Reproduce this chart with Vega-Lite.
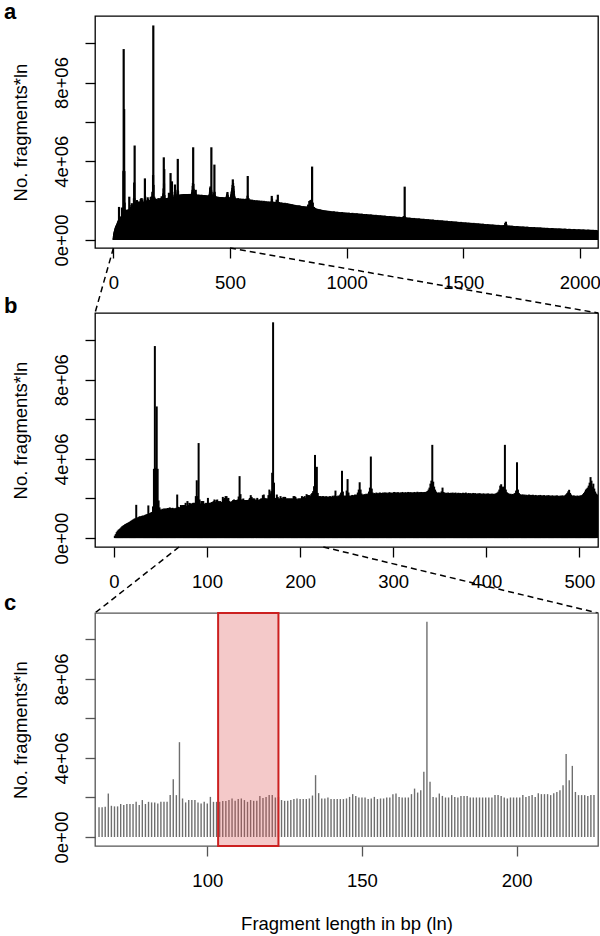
{
"$schema": "https://vega.github.io/schema/vega-lite/v6.json",
"background": "white",
"padding": {"left": 3, "top": 0, "right": 0, "bottom": 0},
"spacing": 0,
"bounds": "flush",
"config": {
 "font": "Liberation Sans",
 "view": {"stroke": "#000", "strokeWidth": 1.3},
 "axis": {"domain": false, "grid": false, "tickColor": "#000", "tickWidth": 1.3, "tickSize": 10, "labelFont": "Liberation Sans", "labelFontSize": 18.5, "labelColor": "#000", "titleFont": "Liberation Sans", "titleFontSize": 18.5, "titleFontWeight": "normal", "titleColor": "#000", "labelFlush": false, "labelOverlap": false},
 "axisY": {"labelAngle": 270, "labelAlign": "center", "labelBaseline": "bottom", "labelPadding": 14, "titlePadding": 22},
 "axisX": {"labelPadding": 15, "titlePadding": 25, "format": "d"},
 "title": {"anchor": "start", "frame": "group", "fontSize": 22, "fontWeight": "bold", "font": "Liberation Sans", "color": "#000", "dx": -91, "baseline": "alphabetic", "offset": 0}
},
"datasets": {
"frag": [
{"l":1,"n":0.12e6},{"l":2,"n":0.2e6},{"l":3,"n":0.3e6},{"l":4,"n":0.37e6},{"l":5,"n":0.42e6},{"l":6,"n":0.46e6},{"l":7,"n":0.5e6},{"l":8,"n":0.55e6},{"l":9,"n":0.6e6},{"l":10,"n":0.63e6},
{"l":11,"n":0.66e6},{"l":12,"n":0.7e6},{"l":13,"n":0.72e6},{"l":14,"n":0.75e6},{"l":15,"n":0.77e6},{"l":16,"n":0.8e6},{"l":17,"n":0.82e6},{"l":18,"n":0.86e6},{"l":19,"n":0.89e6},{"l":20,"n":0.92e6},
{"l":21,"n":0.95e6},{"l":22,"n":0.98e6},{"l":23,"n":1.0e6},{"l":24,"n":1.68e6},{"l":25,"n":1.05e6},{"l":26,"n":1.02e6},{"l":27,"n":1.08e6},{"l":28,"n":1.1e6},{"l":29,"n":1.09e6},{"l":30,"n":1.12e6},
{"l":31,"n":1.14e6},{"l":32,"n":1.12e6},{"l":33,"n":1.16e6},{"l":34,"n":1.18e6},{"l":35,"n":1.2e6},{"l":36,"n":1.22e6},{"l":37,"n":1.65e6},{"l":38,"n":1.25e6},{"l":39,"n":1.27e6},{"l":40,"n":1.3e6},
{"l":41,"n":1.32e6},{"l":42,"n":1.6e6},{"l":43,"n":3.5e6},{"l":44,"n":9.7e6},{"l":45,"n":3.55e6},{"l":46,"n":6.65e6},{"l":47,"n":3.5e6},{"l":48,"n":1.9e6},{"l":49,"n":1.55e6},{"l":50,"n":1.45e6},
{"l":51,"n":1.42e6},{"l":52,"n":1.48e6},{"l":53,"n":1.45e6},{"l":54,"n":1.5e6},{"l":55,"n":1.47e6},{"l":56,"n":1.5e6},{"l":57,"n":1.48e6},{"l":58,"n":1.52e6},{"l":59,"n":1.5e6},{"l":60,"n":1.55e6},
{"l":61,"n":1.52e6},{"l":62,"n":1.5e6},{"l":63,"n":1.53e6},{"l":64,"n":1.5e6},{"l":65,"n":1.5e6},{"l":66,"n":1.5e6},{"l":67,"n":1.53e6},{"l":68,"n":2.2e6},{"l":69,"n":1.58e6},{"l":70,"n":1.55e6},
{"l":71,"n":1.55e6},{"l":72,"n":1.67e6},{"l":73,"n":1.62e6},{"l":74,"n":1.67e6},{"l":75,"n":1.67e6},{"l":76,"n":1.67e6},{"l":77,"n":1.78e6},{"l":78,"n":1.62e6},{"l":79,"n":1.87e6},{"l":80,"n":1.67e6},
{"l":81,"n":1.78e6},{"l":82,"n":1.75e6},{"l":83,"n":1.75e6},{"l":84,"n":1.7e6},{"l":85,"n":1.78e6},{"l":86,"n":1.78e6},{"l":87,"n":1.78e6},{"l":88,"n":2.12e6},{"l":89,"n":2.92e6},{"l":90,"n":2.12e6},
{"l":91,"n":4.8e6},{"l":92,"n":1.95e6},{"l":93,"n":1.75e6},{"l":94,"n":1.87e6},{"l":95,"n":1.87e6},{"l":96,"n":1.87e6},{"l":97,"n":1.75e6},{"l":98,"n":1.7e6},{"l":99,"n":1.78e6},{"l":100,"n":1.7e6},
{"l":101,"n":2.03e6},{"l":102,"n":1.78e6},{"l":103,"n":1.78e6},{"l":104,"n":1.78e6},{"l":105,"n":1.82e6},{"l":106,"n":1.82e6},{"l":107,"n":1.87e6},{"l":108,"n":1.95e6},{"l":109,"n":1.83e6},{"l":110,"n":1.92e6},
{"l":111,"n":1.95e6},{"l":112,"n":1.87e6},{"l":113,"n":1.78e6},{"l":114,"n":1.87e6},{"l":115,"n":1.83e6},{"l":116,"n":1.83e6},{"l":117,"n":2.08e6},{"l":118,"n":1.98e6},{"l":119,"n":2.03e6},{"l":120,"n":2.12e6},
{"l":121,"n":2.12e6},{"l":122,"n":2.0e6},{"l":123,"n":2.03e6},{"l":124,"n":1.87e6},{"l":125,"n":1.83e6},{"l":126,"n":1.83e6},{"l":127,"n":1.87e6},{"l":128,"n":1.92e6},{"l":129,"n":1.95e6},{"l":130,"n":1.92e6},
{"l":131,"n":1.92e6},{"l":132,"n":1.92e6},{"l":133,"n":1.95e6},{"l":134,"n":2.1e6},{"l":135,"n":3.13e6},{"l":136,"n":2.22e6},{"l":137,"n":1.95e6},{"l":138,"n":1.95e6},{"l":139,"n":2.0e6},{"l":140,"n":1.92e6},
{"l":141,"n":1.92e6},{"l":142,"n":1.92e6},{"l":143,"n":1.92e6},{"l":144,"n":1.92e6},{"l":145,"n":1.95e6},{"l":146,"n":2.03e6},{"l":147,"n":2.17e6},{"l":148,"n":2.08e6},{"l":149,"n":2.0e6},{"l":150,"n":2.0e6},
{"l":151,"n":2.0e6},{"l":152,"n":1.92e6},{"l":153,"n":1.95e6},{"l":154,"n":2.03e6},{"l":155,"n":1.92e6},{"l":156,"n":1.95e6},{"l":157,"n":1.95e6},{"l":158,"n":2.0e6},{"l":159,"n":2.0e6},{"l":160,"n":2.17e6},
{"l":161,"n":2.2e6},{"l":162,"n":2.03e6},{"l":163,"n":2.0e6},{"l":164,"n":2.0e6},{"l":165,"n":2.0e6},{"l":166,"n":2.17e6},{"l":167,"n":2.45e6},{"l":168,"n":2.25e6},{"l":169,"n":2.37e6},{"l":170,"n":3.3e6},
{"l":171,"n":10.9e6},{"l":172,"n":2.8e6},{"l":173,"n":2.03e6},{"l":174,"n":2.0e6},{"l":175,"n":2.2e6},{"l":176,"n":2.08e6},{"l":177,"n":2.0e6},{"l":178,"n":2.0e6},{"l":179,"n":2.12e6},{"l":180,"n":2.03e6},
{"l":181,"n":2.0e6},{"l":182,"n":2.08e6},{"l":183,"n":2.08e6},{"l":184,"n":2.08e6},{"l":185,"n":2.0e6},{"l":186,"n":2.0e6},{"l":187,"n":2.0e6},{"l":188,"n":2.0e6},{"l":189,"n":2.0e6},{"l":190,"n":2.0e6},
{"l":191,"n":2.0e6},{"l":192,"n":2.0e6},{"l":193,"n":2.12e6},{"l":194,"n":2.12e6},{"l":195,"n":2.08e6},{"l":196,"n":2.0e6},{"l":197,"n":1.95e6},{"l":198,"n":2.0e6},{"l":199,"n":2.0e6},{"l":200,"n":2.0e6},
{"l":201,"n":2.0e6},{"l":202,"n":2.12e6},{"l":203,"n":2.03e6},{"l":204,"n":2.08e6},{"l":205,"n":2.12e6},{"l":206,"n":2.03e6},{"l":207,"n":2.22e6},{"l":208,"n":2.17e6},{"l":209,"n":2.17e6},{"l":210,"n":2.17e6},
{"l":211,"n":2.12e6},{"l":212,"n":2.22e6},{"l":213,"n":2.28e6},{"l":214,"n":2.37e6},{"l":215,"n":2.62e6},{"l":216,"n":4.2e6},{"l":217,"n":2.87e6},{"l":218,"n":3.6e6},{"l":219,"n":2.28e6},{"l":220,"n":2.12e6},
{"l":221,"n":2.12e6},{"l":222,"n":2.12e6},{"l":223,"n":2.08e6},{"l":224,"n":2.12e6},{"l":225,"n":2.12e6},{"l":226,"n":2.1e6},{"l":227,"n":2.08e6},{"l":228,"n":2.12e6},{"l":229,"n":2.05e6},{"l":230,"n":2.1e6},
{"l":231,"n":2.07e6},{"l":232,"n":2.12e6},{"l":233,"n":2.1e6},{"l":234,"n":2.08e6},{"l":235,"n":2.14e6},{"l":236,"n":2.1e6},{"l":237,"n":2.15e6},{"l":238,"n":2.4e6},{"l":239,"n":2.12e6},{"l":240,"n":2.1e6},
{"l":241,"n":2.15e6},{"l":242,"n":2.12e6},{"l":243,"n":2.2e6},{"l":244,"n":2.3e6},{"l":245,"n":3.4e6},{"l":246,"n":2.35e6},{"l":247,"n":2.15e6},{"l":248,"n":2.12e6},{"l":249,"n":2.15e6},{"l":250,"n":2.4e6},
{"l":251,"n":2.98e6},{"l":252,"n":2.3e6},{"l":253,"n":2.15e6},{"l":254,"n":2.12e6},{"l":255,"n":2.15e6},{"l":256,"n":2.18e6},{"l":257,"n":2.14e6},{"l":258,"n":2.17e6},{"l":259,"n":2.2e6},{"l":260,"n":2.15e6},
{"l":261,"n":2.2e6},{"l":262,"n":2.3e6},{"l":263,"n":2.45e6},{"l":264,"n":2.82e6},{"l":265,"n":2.45e6},{"l":266,"n":2.25e6},{"l":267,"n":2.2e6},{"l":268,"n":2.18e6},{"l":269,"n":2.22e6},{"l":270,"n":2.2e6},
{"l":271,"n":2.24e6},{"l":272,"n":2.2e6},{"l":273,"n":2.25e6},{"l":274,"n":2.35e6},{"l":275,"n":2.55e6},{"l":276,"n":4.12e6},{"l":277,"n":2.5e6},{"l":278,"n":2.3e6},{"l":279,"n":2.25e6},{"l":280,"n":2.28e6},
{"l":281,"n":2.24e6},{"l":282,"n":2.3e6},{"l":283,"n":2.27e6},{"l":284,"n":2.25e6},{"l":285,"n":2.29e6},{"l":286,"n":2.3e6},{"l":287,"n":2.26e6},{"l":288,"n":2.28e6},{"l":289,"n":2.3e6},{"l":290,"n":2.27e6},
{"l":291,"n":2.31e6},{"l":292,"n":2.28e6},{"l":293,"n":2.3e6},{"l":294,"n":2.26e6},{"l":295,"n":2.29e6},{"l":296,"n":2.32e6},{"l":297,"n":2.28e6},{"l":298,"n":2.3e6},{"l":299,"n":2.27e6},{"l":300,"n":2.3e6},
{"l":301,"n":2.33e6},{"l":302,"n":2.29e6},{"l":303,"n":2.31e6},{"l":304,"n":2.28e6},{"l":305,"n":2.32e6},{"l":306,"n":2.3e6},{"l":307,"n":2.27e6},{"l":308,"n":2.31e6},{"l":309,"n":2.29e6},{"l":310,"n":2.33e6},
{"l":311,"n":2.3e6},{"l":312,"n":2.28e6},{"l":313,"n":2.32e6},{"l":314,"n":2.3e6},{"l":315,"n":2.29e6},{"l":316,"n":2.33e6},{"l":317,"n":2.31e6},{"l":318,"n":2.3e6},{"l":319,"n":2.32e6},{"l":320,"n":2.28e6},
{"l":321,"n":2.31e6},{"l":322,"n":2.3e6},{"l":323,"n":2.33e6},{"l":324,"n":2.29e6},{"l":325,"n":2.31e6},{"l":326,"n":2.34e6},{"l":327,"n":2.3e6},{"l":328,"n":2.32e6},{"l":329,"n":2.31e6},{"l":330,"n":2.33e6},
{"l":331,"n":2.3e6},{"l":332,"n":2.32e6},{"l":333,"n":2.31e6},{"l":334,"n":2.33e6},{"l":335,"n":2.32e6},{"l":336,"n":2.35e6},{"l":337,"n":2.38e6},{"l":338,"n":2.45e6},{"l":339,"n":2.55e6},{"l":340,"n":2.75e6},
{"l":341,"n":2.9e6},{"l":342,"n":4.71e6},{"l":343,"n":2.85e6},{"l":344,"n":2.6e6},{"l":345,"n":2.45e6},{"l":346,"n":2.35e6},{"l":347,"n":2.3e6},{"l":348,"n":2.28e6},{"l":349,"n":2.31e6},{"l":350,"n":2.27e6},
{"l":351,"n":2.3e6},{"l":352,"n":2.36e6},{"l":353,"n":2.55e6},{"l":354,"n":2.33e6},{"l":355,"n":2.3e6},{"l":356,"n":2.27e6},{"l":357,"n":2.29e6},{"l":358,"n":2.26e6},{"l":359,"n":2.3e6},{"l":360,"n":2.28e6},
{"l":361,"n":2.25e6},{"l":362,"n":2.29e6},{"l":363,"n":2.27e6},{"l":364,"n":2.3e6},{"l":365,"n":2.26e6},{"l":366,"n":2.28e6},{"l":367,"n":2.3e6},{"l":368,"n":2.25e6},{"l":369,"n":2.27e6},{"l":370,"n":2.29e6},
{"l":371,"n":2.26e6},{"l":372,"n":2.28e6},{"l":373,"n":2.24e6},{"l":374,"n":2.27e6},{"l":375,"n":2.29e6},{"l":376,"n":2.25e6},{"l":377,"n":2.27e6},{"l":378,"n":2.3e6},{"l":379,"n":2.26e6},{"l":380,"n":2.24e6},
{"l":381,"n":2.28e6},{"l":382,"n":2.25e6},{"l":383,"n":2.27e6},{"l":384,"n":2.23e6},{"l":385,"n":2.26e6},{"l":386,"n":2.28e6},{"l":387,"n":2.24e6},{"l":388,"n":2.27e6},{"l":389,"n":2.25e6},{"l":390,"n":2.22e6},
{"l":391,"n":2.26e6},{"l":392,"n":2.24e6},{"l":393,"n":2.27e6},{"l":394,"n":2.23e6},{"l":395,"n":2.25e6},{"l":396,"n":2.22e6},{"l":397,"n":2.26e6},{"l":398,"n":2.24e6},{"l":399,"n":2.21e6},{"l":400,"n":2.25e6},
{"l":401,"n":2.23e6},{"l":402,"n":2.26e6},{"l":403,"n":2.22e6},{"l":404,"n":2.24e6},{"l":405,"n":2.21e6},{"l":406,"n":2.25e6},{"l":407,"n":2.22e6},{"l":408,"n":2.24e6},{"l":409,"n":2.22e6},{"l":410,"n":2.25e6},
{"l":411,"n":2.27e6},{"l":412,"n":2.3e6},{"l":413,"n":2.35e6},{"l":414,"n":2.45e6},{"l":415,"n":2.65e6},{"l":416,"n":2.72e6},{"l":417,"n":2.55e6},{"l":418,"n":2.6e6},{"l":419,"n":2.55e6},{"l":420,"n":4.71e6},
{"l":421,"n":2.45e6},{"l":422,"n":2.32e6},{"l":423,"n":2.28e6},{"l":424,"n":2.25e6},{"l":425,"n":2.22e6},{"l":426,"n":2.24e6},{"l":427,"n":2.2e6},{"l":428,"n":2.23e6},{"l":429,"n":2.21e6},{"l":430,"n":2.25e6},
{"l":431,"n":2.28e6},{"l":432,"n":2.4e6},{"l":433,"n":3.83e6},{"l":434,"n":2.45e6},{"l":435,"n":2.28e6},{"l":436,"n":2.22e6},{"l":437,"n":2.2e6},{"l":438,"n":2.18e6},{"l":439,"n":2.21e6},{"l":440,"n":2.17e6},
{"l":441,"n":2.2e6},{"l":442,"n":2.16e6},{"l":443,"n":2.19e6},{"l":444,"n":2.15e6},{"l":445,"n":2.18e6},{"l":446,"n":2.2e6},{"l":447,"n":2.16e6},{"l":448,"n":2.18e6},{"l":449,"n":2.15e6},{"l":450,"n":2.19e6},
{"l":451,"n":2.17e6},{"l":452,"n":2.14e6},{"l":453,"n":2.18e6},{"l":454,"n":2.16e6},{"l":455,"n":2.13e6},{"l":456,"n":2.17e6},{"l":457,"n":2.15e6},{"l":458,"n":2.18e6},{"l":459,"n":2.14e6},{"l":460,"n":2.16e6},
{"l":461,"n":2.13e6},{"l":462,"n":2.17e6},{"l":463,"n":2.15e6},{"l":464,"n":2.12e6},{"l":465,"n":2.16e6},{"l":466,"n":2.14e6},{"l":467,"n":2.17e6},{"l":468,"n":2.13e6},{"l":469,"n":2.15e6},{"l":470,"n":2.12e6},
{"l":471,"n":2.16e6},{"l":472,"n":2.14e6},{"l":473,"n":2.11e6},{"l":474,"n":2.15e6},{"l":475,"n":2.13e6},{"l":476,"n":2.16e6},{"l":477,"n":2.12e6},{"l":478,"n":2.14e6},{"l":479,"n":2.11e6},{"l":480,"n":2.15e6},
{"l":481,"n":2.13e6},{"l":482,"n":2.16e6},{"l":483,"n":2.12e6},{"l":484,"n":2.14e6},{"l":485,"n":2.18e6},{"l":486,"n":2.22e6},{"l":487,"n":2.28e6},{"l":488,"n":2.36e6},{"l":489,"n":2.44e6},{"l":490,"n":2.28e6},
{"l":491,"n":2.2e6},{"l":492,"n":2.15e6},{"l":493,"n":2.13e6},{"l":494,"n":2.16e6},{"l":495,"n":2.12e6},{"l":496,"n":2.14e6},{"l":497,"n":2.11e6},{"l":498,"n":2.15e6},{"l":499,"n":2.13e6},{"l":500,"n":2.12e6},
{"l":501,"n":2.16e6},{"l":502,"n":2.14e6},{"l":503,"n":2.18e6},{"l":504,"n":2.22e6},{"l":505,"n":2.28e6},{"l":506,"n":2.35e6},{"l":507,"n":2.45e6},{"l":508,"n":2.5e6},{"l":509,"n":2.55e6},{"l":510,"n":2.65e6},
{"l":511,"n":2.8e6},{"l":512,"n":3.08e6},{"l":513,"n":2.9e6},{"l":514,"n":2.6e6},{"l":515,"n":2.75e6},{"l":516,"n":2.5e6},{"l":517,"n":2.35e6},{"l":518,"n":2.25e6},{"l":519,"n":2.2e6},{"l":520,"n":2.15e6},
{"l":525,"n":2.12e6},{"l":530,"n":2.1e6},{"l":535,"n":2.13e6},{"l":540,"n":2.09e6},{"l":545,"n":2.11e6},{"l":550,"n":2.08e6},{"l":555,"n":2.1e6},{"l":560,"n":2.07e6},{"l":565,"n":2.09e6},{"l":570,"n":2.1e6},
{"l":575,"n":2.25e6},{"l":576,"n":3.25e6},{"l":580,"n":2.12e6},{"l":585,"n":2.06e6},{"l":590,"n":2.04e6},{"l":595,"n":2.05e6},{"l":600,"n":2.02e6},{"l":605,"n":2.03e6},{"l":610,"n":2.0e6},{"l":615,"n":2.02e6},
{"l":620,"n":1.99e6},{"l":625,"n":2.01e6},{"l":630,"n":1.98e6},{"l":635,"n":2.0e6},{"l":640,"n":1.97e6},{"l":645,"n":1.99e6},{"l":650,"n":1.96e6},{"l":655,"n":1.97e6},{"l":660,"n":1.95e6},{"l":665,"n":1.96e6},
{"l":670,"n":1.94e6},{"l":675,"n":1.96e6},{"l":679,"n":2.24e6},{"l":680,"n":2.1e6},{"l":685,"n":1.95e6},{"l":690,"n":1.93e6},{"l":695,"n":1.94e6},{"l":700,"n":2.05e6},{"l":705,"n":2.3e6},{"l":710,"n":1.93e6},
{"l":715,"n":1.9e6},{"l":720,"n":1.91e6},{"l":725,"n":1.89e6},{"l":730,"n":1.88e6},{"l":735,"n":1.89e6},{"l":740,"n":1.86e6},{"l":745,"n":1.87e6},{"l":750,"n":1.85e6},{"l":755,"n":1.84e6},{"l":760,"n":1.83e6},
{"l":765,"n":1.82e6},{"l":770,"n":1.8e6},{"l":775,"n":1.79e6},{"l":780,"n":1.78e6},{"l":785,"n":1.77e6},{"l":790,"n":1.76e6},{"l":795,"n":1.76e6},{"l":800,"n":1.75e6},{"l":805,"n":1.73e6},{"l":810,"n":1.72e6},
{"l":815,"n":1.72e6},{"l":820,"n":1.71e6},{"l":825,"n":1.7e6},{"l":830,"n":1.7e6},{"l":835,"n":1.8e6},{"l":840,"n":1.98e6},{"l":845,"n":2.03e6},{"l":850,"n":2.05e6},{"l":852,"n":3.73e6},{"l":855,"n":1.9e6},
{"l":860,"n":1.68e6},{"l":865,"n":1.63e6},{"l":870,"n":1.6e6},{"l":875,"n":1.58e6},{"l":880,"n":1.57e6},{"l":885,"n":1.56e6},{"l":890,"n":1.54e6},{"l":895,"n":1.53e6},{"l":900,"n":1.52e6},{"l":905,"n":1.51e6},
{"l":910,"n":1.5e6},{"l":915,"n":1.49e6},{"l":920,"n":1.48e6},{"l":925,"n":1.48e6},{"l":930,"n":1.47e6},{"l":935,"n":1.46e6},{"l":940,"n":1.45e6},{"l":945,"n":1.46e6},{"l":950,"n":1.44e6},{"l":955,"n":1.43e6},
{"l":960,"n":1.44e6},{"l":965,"n":1.42e6},{"l":970,"n":1.42e6},{"l":975,"n":1.41e6},{"l":980,"n":1.42e6},{"l":985,"n":1.4e6},{"l":990,"n":1.4e6},{"l":995,"n":1.39e6},{"l":1000,"n":1.39e6},{"l":1005,"n":1.38e6},
{"l":1010,"n":1.39e6},{"l":1015,"n":1.37e6},{"l":1020,"n":1.37e6},{"l":1025,"n":1.38e6},{"l":1030,"n":1.36e6},{"l":1035,"n":1.36e6},{"l":1040,"n":1.35e6},{"l":1045,"n":1.36e6},{"l":1050,"n":1.34e6},{"l":1055,"n":1.34e6},
{"l":1060,"n":1.33e6},{"l":1065,"n":1.34e6},{"l":1070,"n":1.32e6},{"l":1075,"n":1.32e6},{"l":1080,"n":1.31e6},{"l":1085,"n":1.32e6},{"l":1090,"n":1.3e6},{"l":1095,"n":1.3e6},{"l":1100,"n":1.29e6},{"l":1105,"n":1.3e6},
{"l":1110,"n":1.28e6},{"l":1115,"n":1.28e6},{"l":1120,"n":1.27e6},{"l":1125,"n":1.28e6},{"l":1130,"n":1.26e6},{"l":1135,"n":1.26e6},{"l":1140,"n":1.25e6},{"l":1145,"n":1.26e6},{"l":1150,"n":1.24e6},{"l":1155,"n":1.24e6},
{"l":1160,"n":1.23e6},{"l":1165,"n":1.24e6},{"l":1170,"n":1.22e6},{"l":1175,"n":1.22e6},{"l":1180,"n":1.21e6},{"l":1185,"n":1.22e6},{"l":1190,"n":1.2e6},{"l":1195,"n":1.2e6},{"l":1200,"n":1.19e6},{"l":1205,"n":1.2e6},
{"l":1210,"n":1.18e6},{"l":1215,"n":1.18e6},{"l":1220,"n":1.17e6},{"l":1225,"n":1.18e6},{"l":1230,"n":1.17e6},{"l":1235,"n":1.16e6},{"l":1240,"n":1.17e6},{"l":1245,"n":1.22e6},{"l":1249,"n":2.71e6},{"l":1250,"n":1.2e6},
{"l":1255,"n":1.15e6},{"l":1260,"n":1.14e6},{"l":1265,"n":1.13e6},{"l":1270,"n":1.14e6},{"l":1275,"n":1.12e6},{"l":1280,"n":1.12e6},{"l":1285,"n":1.11e6},{"l":1290,"n":1.12e6},{"l":1295,"n":1.1e6},{"l":1300,"n":1.1e6},
{"l":1305,"n":1.09e6},{"l":1310,"n":1.1e6},{"l":1315,"n":1.08e6},{"l":1320,"n":1.08e6},{"l":1325,"n":1.07e6},{"l":1330,"n":1.08e6},{"l":1335,"n":1.06e6},{"l":1340,"n":1.06e6},{"l":1345,"n":1.05e6},{"l":1350,"n":1.06e6},
{"l":1355,"n":1.04e6},{"l":1360,"n":1.04e6},{"l":1365,"n":1.03e6},{"l":1370,"n":1.04e6},{"l":1375,"n":1.02e6},{"l":1380,"n":1.02e6},{"l":1385,"n":1.01e6},{"l":1390,"n":1.02e6},{"l":1395,"n":1.0e6},{"l":1400,"n":1.0e6},
{"l":1405,"n":0.99e6},{"l":1410,"n":1.0e6},{"l":1415,"n":0.98e6},{"l":1420,"n":0.98e6},{"l":1425,"n":0.97e6},{"l":1430,"n":0.98e6},{"l":1435,"n":0.96e6},{"l":1440,"n":0.96e6},{"l":1445,"n":0.95e6},{"l":1450,"n":0.96e6},
{"l":1455,"n":0.94e6},{"l":1460,"n":0.94e6},{"l":1465,"n":0.93e6},{"l":1470,"n":0.94e6},{"l":1475,"n":0.92e6},{"l":1480,"n":0.92e6},{"l":1485,"n":0.91e6},{"l":1490,"n":0.92e6},{"l":1495,"n":0.9e6},{"l":1500,"n":0.9e6},
{"l":1505,"n":0.89e6},{"l":1510,"n":0.9e6},{"l":1515,"n":0.88e6},{"l":1520,"n":0.88e6},{"l":1525,"n":0.88e6},{"l":1530,"n":0.87e6},{"l":1535,"n":0.87e6},{"l":1540,"n":0.86e6},{"l":1545,"n":0.87e6},{"l":1550,"n":0.85e6},
{"l":1555,"n":0.85e6},{"l":1560,"n":0.84e6},{"l":1565,"n":0.85e6},{"l":1570,"n":0.83e6},{"l":1575,"n":0.83e6},{"l":1580,"n":0.82e6},{"l":1585,"n":0.83e6},{"l":1590,"n":0.81e6},{"l":1595,"n":0.81e6},{"l":1600,"n":0.8e6},
{"l":1605,"n":0.81e6},{"l":1610,"n":0.79e6},{"l":1615,"n":0.79e6},{"l":1620,"n":0.78e6},{"l":1625,"n":0.79e6},{"l":1630,"n":0.78e6},{"l":1635,"n":0.77e6},{"l":1640,"n":0.77e6},{"l":1645,"n":0.76e6},{"l":1650,"n":0.77e6},
{"l":1655,"n":0.76e6},{"l":1660,"n":0.75e6},{"l":1665,"n":0.75e6},{"l":1670,"n":0.75e6},{"l":1675,"n":0.76e6},{"l":1680,"n":0.86e6},{"l":1683,"n":0.93e6},{"l":1685,"n":0.8e6},{"l":1690,"n":0.74e6},{"l":1695,"n":0.73e6},
{"l":1700,"n":0.73e6},{"l":1705,"n":0.72e6},{"l":1710,"n":0.73e6},{"l":1715,"n":0.71e6},{"l":1720,"n":0.71e6},{"l":1725,"n":0.7e6},{"l":1730,"n":0.71e6},{"l":1735,"n":0.7e6},{"l":1740,"n":0.69e6},{"l":1745,"n":0.69e6},
{"l":1750,"n":0.68e6},{"l":1755,"n":0.69e6},{"l":1760,"n":0.68e6},{"l":1765,"n":0.67e6},{"l":1770,"n":0.67e6},{"l":1775,"n":0.68e6},{"l":1780,"n":0.66e6},{"l":1785,"n":0.66e6},{"l":1790,"n":0.66e6},{"l":1795,"n":0.65e6},
{"l":1800,"n":0.65e6},{"l":1805,"n":0.66e6},{"l":1810,"n":0.64e6},{"l":1815,"n":0.64e6},{"l":1820,"n":0.64e6},{"l":1825,"n":0.63e6},{"l":1830,"n":0.64e6},{"l":1835,"n":0.63e6},{"l":1840,"n":0.62e6},{"l":1845,"n":0.62e6},
{"l":1850,"n":0.62e6},{"l":1855,"n":0.61e6},{"l":1860,"n":0.62e6},{"l":1865,"n":0.61e6},{"l":1870,"n":0.6e6},{"l":1875,"n":0.6e6},{"l":1880,"n":0.61e6},{"l":1885,"n":0.6e6},{"l":1890,"n":0.59e6},{"l":1895,"n":0.59e6},
{"l":1900,"n":0.59e6},{"l":1905,"n":0.58e6},{"l":1910,"n":0.59e6},{"l":1915,"n":0.58e6},{"l":1920,"n":0.58e6},{"l":1925,"n":0.57e6},{"l":1930,"n":0.57e6},{"l":1935,"n":0.58e6},{"l":1940,"n":0.57e6},{"l":1945,"n":0.56e6},
{"l":1950,"n":0.56e6},{"l":1955,"n":0.57e6},{"l":1960,"n":0.56e6},{"l":1965,"n":0.55e6},{"l":1970,"n":0.55e6},{"l":1975,"n":0.56e6},{"l":1980,"n":0.55e6},{"l":1985,"n":0.54e6},{"l":1990,"n":0.54e6},{"l":1995,"n":0.55e6},
{"l":2000,"n":0.54e6},{"l":2005,"n":0.53e6},{"l":2010,"n":0.53e6},{"l":2015,"n":0.54e6},{"l":2020,"n":0.53e6},{"l":2025,"n":0.52e6},{"l":2030,"n":0.52e6},{"l":2035,"n":0.53e6},{"l":2040,"n":0.52e6},{"l":2045,"n":0.52e6},
{"l":2050,"n":0.51e6},{"l":2055,"n":0.52e6},{"l":2060,"n":0.51e6},{"l":2065,"n":0.51e6},{"l":2070,"n":0.51e6},{"l":2075,"n":0.5e6}
]
},
"vconcat": [
 {
  "title": {"text": "a", "dy": 12},
  "width": 503, "height": 232,
  "data": {"name": "frag"},
  "mark": {"type": "rule", "color": "#000", "strokeWidth": 2.2, "clip": true},
  "encoding": {
   "x": {"field": "l", "type": "quantitative", "scale": {"domain": [-79, 2078], "nice": false, "zero": false}, "axis": {"values": [0, 500, 1000, 1500, 2000], "title": null}},
   "y": {"field": "n", "type": "quantitative", "scale": {"domain": [-407000, 11380000], "nice": false}, "axis": {"title": "No. fragments*ln", "values": [0, 2000000, 4000000, 6000000, 8000000, 10000000], "labelExpr": "datum.value == 0 ? '0e+00' : datum.value == 4000000 ? '4e+06' : datum.value == 8000000 ? '8e+06' : ''"}},
   "y2": {"datum": 0}
  }
 },
 {
  "width": 503, "height": 65,
  "view": {"stroke": null},
  "data": {"values": [{"from": 0, "to": -79}, {"from": 500, "to": 2078}]},
  "mark": {"type": "rule", "color": "#000", "strokeWidth": 1.5, "strokeDash": [6, 4]},
  "encoding": {
   "x": {"field": "from", "type": "quantitative", "scale": {"domain": [-79, 2078], "nice": false, "zero": false}, "axis": null},
   "x2": {"field": "to"},
   "y": {"datum": 1, "type": "quantitative", "scale": {"domain": [0, 1]}, "axis": null},
   "y2": {"datum": 0}
  }
 },
 {
  "title": {"text": "b", "dy": 9},
  "width": 503, "height": 234,
  "data": {"name": "frag"},
  "transform": [{"filter": "datum.l <= 520"}],
  "mark": {"type": "rule", "color": "#000", "strokeWidth": 2, "clip": true},
  "encoding": {
   "x": {"field": "l", "type": "quantitative", "scale": {"domain": [-20.3, 520], "nice": false, "zero": false}, "axis": {"values": [0, 100, 200, 300, 400, 500], "title": null}},
   "y": {"field": "n", "type": "quantitative", "scale": {"domain": [-450000, 11370000], "nice": false}, "axis": {"title": "No. fragments*ln", "values": [0, 2000000, 4000000, 6000000, 8000000, 10000000], "labelExpr": "datum.value == 0 ? '0e+00' : datum.value == 4000000 ? '4e+06' : datum.value == 8000000 ? '8e+06' : ''"}},
   "y2": {"datum": 0}
  }
 },
 {
  "width": 503, "height": 66,
  "view": {"stroke": null},
  "data": {"values": [{"from": 70, "to": -20.3}, {"from": 225, "to": 520}]},
  "mark": {"type": "rule", "color": "#000", "strokeWidth": 1.5, "strokeDash": [6, 4]},
  "encoding": {
   "x": {"field": "from", "type": "quantitative", "scale": {"domain": [-20.3, 520], "nice": false, "zero": false}, "axis": null},
   "x2": {"field": "to"},
   "y": {"datum": 1, "type": "quantitative", "scale": {"domain": [0, 1]}, "axis": null},
   "y2": {"datum": 0}
  }
 },
 {
  "title": {"text": "c", "dy": 7},
  "width": 503, "height": 233,
  "view": {"stroke": "#555"},
  "layer": [
   {
    "data": {"name": "frag"},
    "transform": [{"filter": "datum.l >= 65 && datum.l <= 225"}],
    "mark": {"type": "rule", "color": "#6e6e6e", "strokeWidth": 1.4},
    "encoding": {
     "x": {"field": "l", "type": "quantitative", "scale": {"domain": [63.7, 226.3], "nice": false, "zero": false}, "axis": {"values": [100, 150, 200], "title": "Fragment length in bp (ln)", "tickColor": "#555"}},
     "y": {"field": "n", "type": "quantitative", "scale": {"domain": [-456000, 11340000], "nice": false}, "axis": {"title": "No. fragments*ln", "tickColor": "#555", "values": [0, 2000000, 4000000, 6000000, 8000000, 10000000], "labelExpr": "datum.value == 0 ? '0e+00' : datum.value == 4000000 ? '4e+06' : datum.value == 8000000 ? '8e+06' : ''"}},
     "y2": {"datum": 0}
    }
   },
   {
    "data": {"values": [{"start": 103.5, "end": 123}]},
    "mark": {"type": "rect", "fill": "#d94c4c", "fillOpacity": 0.3, "stroke": "#cc2020", "strokeWidth": 2},
    "encoding": {
     "x": {"field": "start", "type": "quantitative"},
     "x2": {"field": "end"}
    }
   }
  ]
 }
]
}
